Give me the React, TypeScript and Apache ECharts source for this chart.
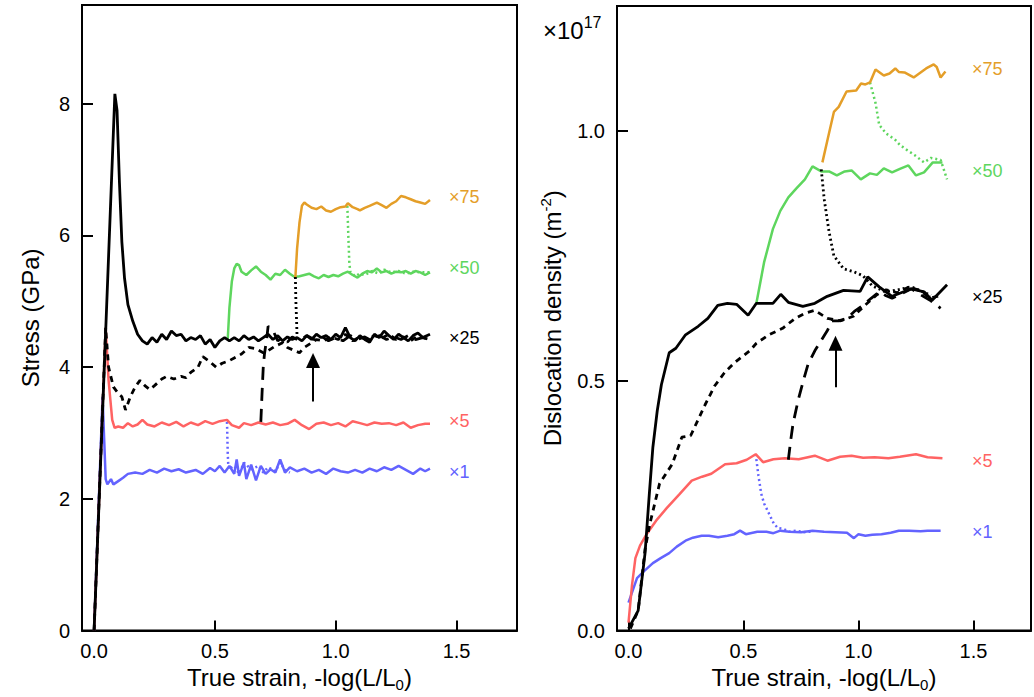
import React, { useEffect, useRef } from "react";
import * as echarts from "echarts";

// ---------- Left panel: stress (GPa) vs true strain ----------
const stressX1: number[][] = [[0,0],[0.035,3.55],[0.048,2.3],[0.055,2.22],[0.07,2.3],[0.08,2.22],[0.1,2.27],[0.12,2.32],[0.14,2.38],[0.17,2.4],[0.2,2.38],[0.23,2.44],[0.26,2.4],[0.29,2.46],[0.32,2.42],[0.35,2.45],[0.38,2.4],[0.42,2.44],[0.45,2.38],[0.48,2.47],[0.5,2.42],[0.52,2.5],[0.54,2.4],[0.56,2.5],[0.58,2.38],[0.59,2.6],[0.6,2.35],[0.62,2.55],[0.63,2.3],[0.65,2.52],[0.67,2.28],[0.69,2.5],[0.71,2.38],[0.73,2.45],[0.75,2.4],[0.77,2.6],[0.79,2.4],[0.81,2.48],[0.84,2.42],[0.87,2.46],[0.9,2.4],[0.93,2.44],[0.96,2.38],[0.99,2.46],[1.02,2.42],[1.05,2.4],[1.08,2.44],[1.11,2.4],[1.14,2.46],[1.17,2.42],[1.2,2.48],[1.23,2.44],[1.26,2.5],[1.29,2.44],[1.32,2.38],[1.35,2.46],[1.37,2.42],[1.39,2.46]];
const stressX5to1: number[][] = [[0.55,3.17],[0.553,2.7],[0.556,2.45],[0.58,2.5],[0.6,2.38],[0.62,2.55],[0.65,2.45],[0.68,2.5],[0.7,2.4],[0.72,2.48],[0.75,2.42],[0.77,2.55],[0.79,2.44],[0.81,2.4]];
const stressX5: number[][] = [[0,0],[0.048,4.6],[0.06,3.8],[0.075,3.2],[0.085,3.08],[0.1,3.1],[0.12,3.08],[0.14,3.15],[0.16,3.1],[0.18,3.13],[0.2,3.2],[0.22,3.13],[0.25,3.1],[0.28,3.16],[0.31,3.12],[0.34,3.17],[0.37,3.1],[0.4,3.16],[0.43,3.12],[0.46,3.18],[0.49,3.14],[0.52,3.18],[0.55,3.2],[0.57,3.12],[0.6,3.08],[0.62,3.15],[0.65,3.12],[0.68,3.16],[0.71,3.13],[0.74,3.16],[0.77,3.12],[0.8,3.14],[0.83,3.2],[0.86,3.12],[0.89,3.06],[0.92,3.14],[0.95,3.16],[0.98,3.12],[1.01,3.15],[1.04,3.1],[1.07,3.18],[1.1,3.15],[1.13,3.12],[1.16,3.16],[1.19,3.14],[1.22,3.15],[1.25,3.12],[1.28,3.16],[1.31,3.08],[1.34,3.12],[1.37,3.14],[1.39,3.14]];
const stressX25: number[][] = [[0,0],[0.086,8.15],[0.095,7.9],[0.105,6.8],[0.115,5.9],[0.126,5.35],[0.14,4.95],[0.16,4.7],[0.18,4.5],[0.2,4.4],[0.22,4.35],[0.24,4.45],[0.26,4.38],[0.28,4.5],[0.3,4.42],[0.32,4.55],[0.34,4.48],[0.36,4.5],[0.38,4.4],[0.4,4.45],[0.42,4.42],[0.44,4.48],[0.46,4.35],[0.48,4.42],[0.5,4.3],[0.52,4.4],[0.54,4.45],[0.56,4.4],[0.58,4.45],[0.6,4.4],[0.62,4.48],[0.64,4.42],[0.66,4.46],[0.68,4.4],[0.7,4.45],[0.72,4.5],[0.74,4.42],[0.76,4.48],[0.78,4.4],[0.8,4.46],[0.82,4.42],[0.84,4.45],[0.86,4.4],[0.88,4.48],[0.9,4.42],[0.92,4.5],[0.94,4.45],[0.96,4.48],[0.98,4.42],[1.0,4.5],[1.02,4.45],[1.04,4.6],[1.06,4.45],[1.08,4.4],[1.1,4.48],[1.12,4.42],[1.14,4.38],[1.16,4.5],[1.18,4.45],[1.2,4.55],[1.22,4.48],[1.24,4.42],[1.26,4.5],[1.28,4.45],[1.3,4.4],[1.32,4.48],[1.34,4.52],[1.36,4.45],[1.39,4.5]];
const stressX1to25: number[][] = [[0,0],[0.048,4.6],[0.06,4.0],[0.08,3.7],[0.1,3.6],[0.115,3.55],[0.13,3.35],[0.15,3.55],[0.17,3.7],[0.19,3.8],[0.21,3.72],[0.23,3.66],[0.25,3.72],[0.28,3.82],[0.3,3.86],[0.33,3.82],[0.36,3.86],[0.38,3.84],[0.4,3.92],[0.43,4.0],[0.45,4.16],[0.48,4.08],[0.505,4.0],[0.53,4.06],[0.56,4.1],[0.58,4.14],[0.61,4.2],[0.64,4.3],[0.67,4.28],[0.7,4.22],[0.72,4.25],[0.75,4.32],[0.78,4.37],[0.8,4.3],[0.83,4.25],[0.85,4.22],[0.87,4.3],[0.9,4.37],[0.92,4.42],[0.95,4.4],[0.98,4.46],[1.01,4.42],[1.04,4.5],[1.07,4.4],[1.1,4.46],[1.13,4.42],[1.16,4.48],[1.19,4.44],[1.22,4.5],[1.25,4.42],[1.28,4.46],[1.31,4.4],[1.34,4.48],[1.37,4.44],[1.39,4.46]];
const stressX5to25: number[][] = [[0.69,3.17],[0.695,3.6],[0.7,4.0],[0.705,4.2],[0.715,4.45],[0.72,4.62],[0.73,4.6],[0.745,4.52],[0.76,4.4],[0.78,4.45],[0.8,4.38],[0.82,4.46],[0.85,4.4],[0.88,4.48],[0.91,4.42],[0.94,4.47],[0.97,4.4],[1.0,4.45],[1.03,4.4],[1.06,4.48],[1.09,4.42],[1.12,4.46],[1.15,4.4],[1.18,4.48],[1.21,4.42],[1.24,4.46],[1.27,4.42],[1.3,4.48],[1.33,4.42],[1.36,4.45],[1.39,4.42]];
const stressX25to50: number[][] = [[0.553,4.42],[0.56,4.9],[0.57,5.3],[0.58,5.5],[0.59,5.57],[0.6,5.55],[0.61,5.45],[0.63,5.4],[0.65,5.47],[0.67,5.53],[0.69,5.45],[0.71,5.4],[0.73,5.33],[0.75,5.42],[0.77,5.4],[0.79,5.48],[0.81,5.42],[0.83,5.37],[0.85,5.38],[0.87,5.4],[0.89,5.42],[0.91,5.38],[0.93,5.35],[0.95,5.4],[0.97,5.37],[0.99,5.4],[1.01,5.38],[1.03,5.42],[1.05,5.45],[1.07,5.4],[1.09,5.36],[1.11,5.42],[1.13,5.46],[1.15,5.44],[1.17,5.5],[1.19,5.44],[1.21,5.46],[1.23,5.42],[1.25,5.45],[1.27,5.44],[1.29,5.46],[1.31,5.42],[1.33,5.46],[1.35,5.44],[1.37,5.4],[1.39,5.44]];
const stressX75to50: number[][] = [[1.048,6.45],[1.052,6.0],[1.056,5.6],[1.06,5.45],[1.08,5.38],[1.1,5.42],[1.12,5.4],[1.15,5.46],[1.18,5.42],[1.2,5.48],[1.23,5.44],[1.26,5.46],[1.29,5.42],[1.32,5.45],[1.35,5.44],[1.39,5.44]];
const stressX50to75: number[][] = [[0.833,5.37],[0.84,5.8],[0.85,6.2],[0.86,6.45],[0.87,6.5],[0.88,6.47],[0.9,6.42],[0.92,6.4],[0.94,6.44],[0.96,6.38],[0.98,6.36],[1.0,6.4],[1.02,6.43],[1.04,6.44],[1.05,6.49],[1.07,6.43],[1.09,6.4],[1.1,6.38],[1.12,6.42],[1.14,6.45],[1.17,6.5],[1.19,6.46],[1.21,6.42],[1.23,6.48],[1.25,6.52],[1.27,6.6],[1.29,6.58],[1.31,6.55],[1.33,6.52],[1.35,6.5],[1.37,6.48],[1.39,6.54]];
const stressX50to25: number[][] = [[0.833,5.37],[0.835,5.0],[0.838,4.7],[0.84,4.45]];

// ---------- Right panel: dislocation density (x1e17 m^-2) vs true strain ----------
const densX1: number[][] = [[0,0.056],[0.037,0.105],[0.07,0.12],[0.106,0.135],[0.14,0.145],[0.177,0.155],[0.21,0.168],[0.248,0.18],[0.28,0.186],[0.318,0.19],[0.35,0.19],[0.39,0.187],[0.43,0.19],[0.46,0.193],[0.485,0.2],[0.51,0.193],[0.53,0.195],[0.56,0.198],[0.6,0.198],[0.63,0.195],[0.66,0.2],[0.7,0.198],[0.75,0.197],[0.8,0.2],[0.85,0.198],[0.9,0.197],[0.95,0.196],[0.98,0.185],[1.0,0.193],[1.03,0.19],[1.06,0.192],[1.1,0.193],[1.14,0.196],[1.175,0.2],[1.22,0.2],[1.27,0.199],[1.3,0.2],[1.357,0.2]];
const densX5to1: number[][] = [[0.553,0.353],[0.565,0.31],[0.577,0.274],[0.59,0.254],[0.61,0.235],[0.632,0.214],[0.65,0.205],[0.67,0.204],[0.7,0.198],[0.73,0.2],[0.76,0.197],[0.796,0.198]];
const densX5: number[][] = [[0,0.016],[0.015,0.09],[0.03,0.145],[0.05,0.17],[0.08,0.194],[0.12,0.22],[0.164,0.244],[0.22,0.272],[0.275,0.3],[0.32,0.308],[0.36,0.314],[0.42,0.333],[0.47,0.335],[0.514,0.342],[0.553,0.353],[0.585,0.337],[0.63,0.343],[0.68,0.345],[0.74,0.343],[0.81,0.35],[0.865,0.34],[0.92,0.348],[0.97,0.35],[1.02,0.346],[1.07,0.347],[1.13,0.345],[1.18,0.348],[1.25,0.353],[1.3,0.347],[1.365,0.345]];
const densX5to25: number[][] = [[0.695,0.342],[0.705,0.38],[0.715,0.413],[0.737,0.46],[0.76,0.5],[0.78,0.532],[0.81,0.56],[0.837,0.58],[0.864,0.6],[0.885,0.62],[0.914,0.62],[0.95,0.625],[0.985,0.64],[1.02,0.651],[1.055,0.665],[1.09,0.678],[1.12,0.67],[1.146,0.665],[1.19,0.675],[1.23,0.684],[1.27,0.672],[1.315,0.66],[1.357,0.645]];
const densX25: number[][] = [[0,0.004],[0.042,0.04],[0.072,0.155],[0.09,0.27],[0.106,0.367],[0.125,0.44],[0.143,0.492],[0.177,0.556],[0.206,0.565],[0.248,0.592],[0.303,0.609],[0.345,0.625],[0.388,0.651],[0.43,0.655],[0.47,0.653],[0.52,0.631],[0.556,0.655],[0.628,0.655],[0.662,0.673],[0.695,0.657],[0.758,0.649],[0.81,0.655],[0.864,0.669],[0.935,0.681],[1.007,0.679],[1.04,0.708],[1.09,0.688],[1.146,0.669],[1.23,0.684],[1.285,0.678],[1.32,0.661],[1.385,0.692]];
const densX1to25: number[][] = [[0.008,0.004],[0.042,0.04],[0.072,0.163],[0.093,0.214],[0.135,0.294],[0.19,0.333],[0.232,0.387],[0.27,0.39],[0.333,0.452],[0.375,0.49],[0.417,0.516],[0.46,0.536],[0.527,0.56],[0.556,0.575],[0.61,0.592],[0.67,0.605],[0.725,0.625],[0.767,0.635],[0.81,0.641],[0.864,0.625],[0.923,0.62],[0.978,0.629],[1.03,0.652],[1.08,0.672],[1.12,0.682],[1.17,0.676],[1.22,0.688],[1.27,0.68],[1.31,0.665],[1.35,0.67]];
const densX25to50: number[][] = [[0.556,0.655],[0.59,0.738],[0.628,0.804],[0.66,0.84],[0.695,0.867],[0.73,0.885],[0.767,0.903],[0.8,0.929],[0.838,0.919],[0.872,0.919],[0.906,0.911],[0.94,0.919],[0.97,0.921],[1.01,0.903],[1.05,0.915],[1.08,0.912],[1.11,0.925],[1.146,0.917],[1.18,0.924],[1.217,0.931],[1.25,0.911],[1.285,0.917],[1.323,0.937],[1.365,0.937]];
const densX50to75: number[][] = [[0.843,0.937],[0.872,0.996],[0.893,1.038],[0.914,1.048],[0.948,1.079],[0.99,1.081],[1.011,1.095],[1.03,1.093],[1.05,1.097],[1.074,1.123],[1.11,1.111],[1.135,1.115],[1.16,1.125],[1.175,1.118],[1.2,1.117],[1.24,1.107],[1.27,1.117],[1.294,1.125],[1.327,1.133],[1.34,1.128],[1.357,1.107],[1.378,1.119]];
const densX75to50: number[][] = [[1.05,1.097],[1.074,1.056],[1.09,1.012],[1.12,0.995],[1.16,0.982],[1.18,0.972],[1.21,0.962],[1.243,0.952],[1.285,0.937],[1.315,0.946],[1.357,0.942],[1.385,0.903]];
const densX50to25: number[][] = [[0.838,0.923],[0.851,0.863],[0.872,0.798],[0.893,0.75],[0.935,0.724],[0.98,0.718],[1.02,0.71],[1.06,0.69],[1.117,0.678],[1.17,0.682],[1.23,0.688],[1.27,0.68],[1.315,0.671]];

// arrows (strain, value) : tail -> head
const stressArrow: number[][] = [[0.906, 3.48], [0.906, 4.1]];
const densArrow: number[][] = [[0.9, 0.487], [0.9, 0.575]];

const rateLabels = ["×75", "×50", "×25", "×5", "×1"];

const ORANGE = "#E49E28";
const GREEN = "#5ED65E";
const RED = "#FF6363";
const BLUE = "#6363FF";
const BLACK = "#000000";
const labelColors = [ORANGE, GREEN, BLACK, RED, BLUE];

const FONT = "'Liberation Sans', Arial, sans-serif";

export default function App() {
  const ref = useRef<HTMLDivElement>(null);
  useEffect(() => {
    if (!ref.current) return;
    const chart = echarts.init(ref.current, null, { renderer: "svg" });

    const line = (
      data: number[][],
      color: string,
      idx: number,
      type: any = "solid",
      width = 2.5,
      z = 2,
      extra: any = {}
    ) => ({
      type: "line",
      data,
      xAxisIndex: idx,
      yAxisIndex: idx,
      showSymbol: false,
      symbol: "none",
      silent: true,
      z,
      lineStyle: { color, width, type },
      ...extra,
    });

    const dotted = [2, 3];
    const shortDash = [6, 5];
    const longDash = [13, 8];

    const arrowMark = (pts: number[][]) => ({
      markLine: {
        silent: true,
        symbol: ["none", "triangle"],
        symbolSize: [14, 15],
        label: { show: false },
        lineStyle: { color: "#000", width: 2, type: "solid" },
        itemStyle: { color: "#000" },
        data: [[{ coord: pts[0] }, { coord: pts[1] }]],
      },
    });

    const xAxisBase = (gridIndex: number) => ({
      type: "value",
      gridIndex,
      min: -0.05,
      max: 1.75,
      splitNumber: 4,
      axisLine: { show: true, onZero: false, lineStyle: { color: "#000", width: 2 } },
      axisTick: { show: true, inside: true, length: 10, lineStyle: { color: "#000", width: 2 } },
      splitLine: { show: false },
      axisLabel: {
        color: "#000",
        fontSize: 20,
        fontFamily: FONT,
        margin: 10,
        formatter: (v: number) =>
          Math.abs(v * 2 - Math.round(v * 2)) < 1e-6 && v >= 0 && v <= 1.5 ? v.toFixed(1) : "",
      },
      name: "True strain, -log(L/L{sub|0})",
      nameLocation: "middle",
      nameGap: 30,
      nameTextStyle: {
        color: "#000",
        fontSize: 24,
        fontFamily: FONT,
        rich: { sub: { fontSize: 15, fontFamily: FONT, color: "#000", padding: [14, 0, 0, 0] } },
      },
    });

    const labelsLeftY = [197, 268, 338, 421, 472];
    const labelsRightY = [69, 171, 297, 461, 532];
    const graphics: any[] = [];
    rateLabels.forEach((t, i) => {
      graphics.push({
        type: "text",
        x: 449,
        y: labelsLeftY[i],
        silent: true,
        style: { text: t, fill: labelColors[i], fontSize: 18, fontFamily: FONT, verticalAlign: "middle" },
      });
      graphics.push({
        type: "text",
        x: 972,
        y: labelsRightY[i],
        silent: true,
        style: { text: t, fill: labelColors[i], fontSize: 18, fontFamily: FONT, verticalAlign: "middle" },
      });
    });
    graphics.push({
      type: "text",
      x: 543,
      y: 30,
      silent: true,
      style: {
        text: "×10{sup|17}",
        fill: "#000",
        fontSize: 24,
        fontFamily: FONT,
        verticalAlign: "middle",
        rich: { sup: { fontSize: 16, fontFamily: FONT, fill: "#000", padding: [0, 0, 16, 0] } },
      },
    });

    const yAxisCommon = {
      axisLine: { show: true, onZero: false, lineStyle: { color: "#000", width: 2 } },
      axisTick: { show: true, inside: true, length: 11, lineStyle: { color: "#000", width: 2 } },
      splitLine: { show: false },
    };

    const option: any = {
      animation: false,
      backgroundColor: "#fff",
      grid: [
        { left: 82, top: 5, width: 435, height: 628, show: true, borderColor: "#000", borderWidth: 2, backgroundColor: "transparent" },
        { left: 617, top: 6, width: 428, height: 629, show: true, borderColor: "#000", borderWidth: 2, backgroundColor: "transparent" },
      ],
      xAxis: [xAxisBase(0), xAxisBase(1)],
      yAxis: [
        {
          type: "value",
          gridIndex: 0,
          min: 0,
          max: 9.5,
          interval: 2,
          ...yAxisCommon,
          axisLabel: {
            color: "#000",
            fontSize: 20,
            fontFamily: FONT,
            margin: 12,
            formatter: (v: number) => (v > 9 ? "" : String(v)),
          },
          name: "Stress (GPa)",
          nameLocation: "middle",
          nameRotate: 90,
          nameGap: 40,
          nameTextStyle: { color: "#000", fontSize: 24, fontFamily: FONT },
        },
        {
          type: "value",
          gridIndex: 1,
          min: 0,
          max: 1.25,
          interval: 0.5,
          ...yAxisCommon,
          axisLabel: {
            color: "#000",
            fontSize: 20,
            fontFamily: FONT,
            margin: 12,
            formatter: (v: number) => (v > 1.2 ? "" : v.toFixed(1)),
          },
          name: "Dislocation density (m{sup|-2})",
          nameLocation: "middle",
          nameRotate: 90,
          nameGap: 50,
          nameTextStyle: {
            color: "#000",
            fontSize: 24,
            fontFamily: FONT,
            rich: { sup: { fontSize: 15, fontFamily: FONT, color: "#000", padding: [0, 0, 14, 0] } },
          },
        },
      ],
      graphic: graphics,
      series: [
        // left panel
        line(stressX1, BLUE, 0, "solid", 2.5, 2),
        line(stressX5to1, BLUE, 0, dotted, 2.5, 2),
        line(stressX5, RED, 0, "solid", 2.5, 3),
        line(stressX25to50, GREEN, 0, "solid", 2.5, 3),
        line(stressX75to50, GREEN, 0, dotted, 2.5, 3),
        line(stressX50to75, ORANGE, 0, "solid", 2.5, 3),
        line(stressX25, BLACK, 0, "solid", 2.8, 4, arrowMark(stressArrow)),
        line(stressX1to25, BLACK, 0, shortDash, 2.8, 4),
        line(stressX5to25, BLACK, 0, longDash, 2.8, 4),
        line(stressX50to25, BLACK, 0, dotted, 2.8, 4),
        // right panel
        line(densX1, BLUE, 1, "solid", 2.5, 2),
        line(densX5to1, BLUE, 1, dotted, 2.5, 2),
        line(densX5, RED, 1, "solid", 2.5, 3),
        line(densX25to50, GREEN, 1, "solid", 2.5, 3),
        line(densX75to50, GREEN, 1, dotted, 2.5, 3),
        line(densX50to75, ORANGE, 1, "solid", 2.5, 3),
        line(densX25, BLACK, 1, "solid", 2.8, 4, arrowMark(densArrow)),
        line(densX1to25, BLACK, 1, shortDash, 2.8, 4),
        line(densX5to25, BLACK, 1, longDash, 2.8, 4),
        line(densX50to25, BLACK, 1, dotted, 2.8, 4),
      ],
    };
    chart.setOption(option);
    return () => chart.dispose();
  }, []);

  return (
    <div
      ref={ref}
      style={{ position: "absolute", left: 0, top: 0, width: 1034, height: 697, background: "#fff" }}
    />
  );
}
